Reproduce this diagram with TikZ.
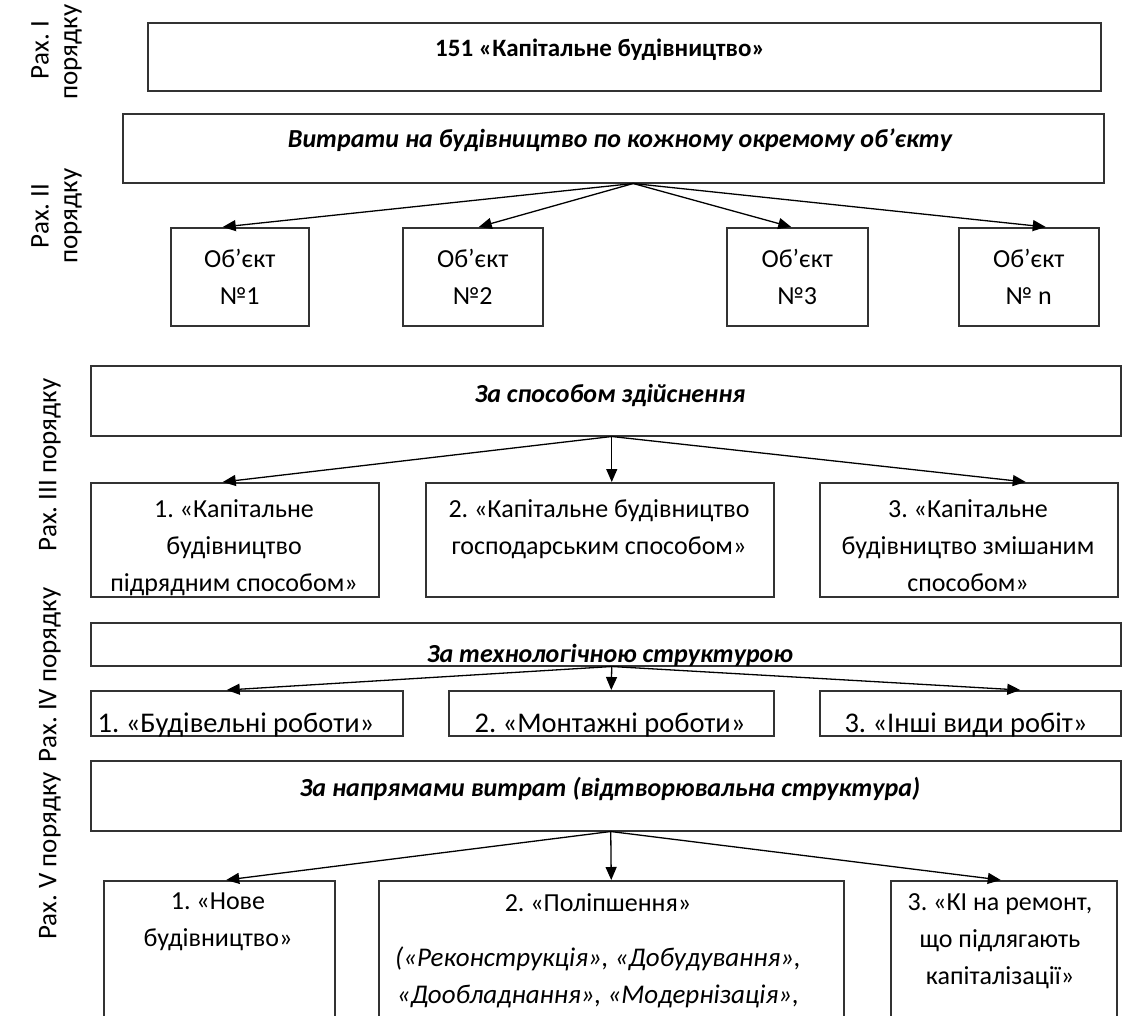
\documentclass[tikz,border=0pt]{standalone}
\usepackage{fontspec}
\setmainfont{Carlito}
\usetikzlibrary{arrows.meta}
\frenchspacing

\begin{document}
\begin{tikzpicture}[x=1pt, y=-1pt,
    box/.style={draw=black!80, line width=1.5pt, inner sep=0pt, anchor=north west},
    txt/.style={align=center, inner sep=0pt, font=\fontsize{26}{37}\selectfont},
    hd/.style={txt, font=\fontsize{26}{37}\selectfont\bfseries\itshape},
    rah/.style={rotate=90, inner sep=0pt, font=\fontsize{27}{33}\selectfont},
    arr/.style={-{Triangle[length=13pt,width=11pt]}, line width=1.3pt}]
    \clip (0,0) rectangle (1143,1015);

    % Side labels
    \node[rah] (lab1a) at (40,50) {Рах. I};
    \node[rah] (lab1b) at (73,52) {порядку};
    \node[rah] (lab2a) at (40,216) {Рах. II};
    \node[rah] (lab2b) at (73,216) {порядку};
    \node[rah] (lab3) at (50,465) {Рах. III порядку};
    \node[rah] (lab4) at (50,675) {Рах. IV порядку};
    \node[rah] (lab5) at (50,856) {Рах. V порядку};

    % I order
    \node[box, minimum width=953pt, minimum height=68pt] (acc) at (147,22) {};
    \node[txt, font=\fontsize{25}{37}\selectfont\bfseries] (acctxt) at (600,50) {151 «Капітальне будівництво»};

    % II order
    \node[box, minimum width=981pt, minimum height=69pt] (costs) at (122,113) {};
    \node[hd] (coststxt) at (620,140) {Витрати на будівництво по кожному окремому об’єкту};
    \node[box, txt, minimum width=138pt, minimum height=98pt] (obj1) at (170,227) {Об’єкт\\№1};
    \node[box, txt, minimum width=140pt, minimum height=98pt] (obj2) at (402,227) {Об’єкт\\№2};
    \node[box, txt, minimum width=141pt, minimum height=98pt] (obj3) at (726,227) {Об’єкт\\№3};
    \node[box, txt, minimum width=140pt, minimum height=98pt] (objn) at (958,227) {Об’єкт\\№ n};
    \draw[arr] ([xshift=20pt]costs.south) -- ([xshift=-17pt]obj1.north);
    \draw[arr] ([xshift=20pt]costs.south) -- ([xshift=6pt]obj2.north);
    \draw[arr] ([xshift=20pt]costs.south) -- ([xshift=-6pt]obj3.north);
    \draw[arr] ([xshift=20pt]costs.south) -- ([xshift=17pt]objn.north);

    % III order
    \node[box, minimum width=1030pt, minimum height=70pt] (way) at (90,365) {};
    \node[hd] (waytxt) at (610,395) {За способом здійснення};
    \node[box, minimum width=288pt, minimum height=114pt] (way1) at (90,482) {};
    \node[box, minimum width=348pt, minimum height=114pt] (way2) at (425,482) {};
    \node[box, minimum width=298pt, minimum height=114pt] (way3) at (819,482) {};
    \node[txt, anchor=north] (way1txt) at (234,499) {1. «Капітальне\\будівництво\\підрядним способом»};
    \node[txt, anchor=north] (way2txt) at (599,499) {2. «Капітальне будівництво\\господарським способом»};
    \node[txt, anchor=north] (way3txt) at (968,499) {3. «Капітальне\\будівництво змішаним\\способом»};
    \draw[arr] ([xshift=6pt]way.south) -- ([xshift=-12pt]way1.north);
    \draw[arr] ([xshift=6pt]way.south) -- ([xshift=12pt]way2.north);
    \draw[arr] ([xshift=6pt]way.south) -- ([xshift=57pt]way3.north);

    % IV order
    \node[box, minimum width=1030pt, minimum height=43pt] (tech) at (90,622) {};
    \node[hd, anchor=base] (techtxt) at (610,662) {За технологічною структурою};
    \node[box, minimum width=312pt, minimum height=45pt] (tech1) at (90,690) {};
    \node[box, minimum width=325pt, minimum height=45pt] (tech2) at (448,690) {};
    \node[box, minimum width=301pt, minimum height=45pt] (tech3) at (819,690) {};
    \node[txt, font=\fontsize{28.5}{37}\selectfont, anchor=base] (tech1txt) at (236,732) {1. «Будівельні роботи»};
    \node[txt, font=\fontsize{28.5}{37}\selectfont, anchor=base] (tech2txt) at (610,732) {2. «Монтажні роботи»};
    \node[txt, font=\fontsize{28.5}{37}\selectfont, anchor=base] (tech3txt) at (966,732) {3. «Інші види робіт»};
    \draw[arr] ([xshift=6pt]tech.south) -- ([xshift=-20pt]tech1.north);
    \draw[arr] ([xshift=6pt]tech.south) -- ([xshift=0pt]tech2.north);
    \draw[arr] ([xshift=6pt]tech.south) -- ([xshift=50pt]tech3.north);

    % V order
    \node[box, minimum width=1030pt, minimum height=70pt] (dir) at (90,760) {};
    \node[hd] (dirtxt) at (610,789) {За напрямами витрат (відтворювальна структура)};
    \node[box, minimum width=231pt, minimum height=160pt] (dir1) at (103,880) {};
    \node[box, minimum width=465pt, minimum height=160pt] (dir2) at (378,880) {};
    \node[box, minimum width=226pt, minimum height=160pt] (dir3) at (890,880) {};
    \node[txt, anchor=north] (dir1txt) at (218,893) {1. «Нове\\будівництво»};
    \node[txt, anchor=north] (dir2txt) at (598,893) {2. «Поліпшення»\\[18pt]{\fontsize{27}{37}\selectfont\itshape(«Реконструкція», «Добудування»,}\\{\fontsize{27}{37}\selectfont\itshape«Дообладнання», «Модернізація»,}};
    \node[txt, anchor=north] (dir3txt) at (1000,893) {3. «КІ на ремонт,\\що підлягають\\капіталізації»};
    \draw[arr] ([xshift=5pt]dir.south) -- ([xshift=7pt]dir1.north);
    \draw[arr] ([xshift=5pt]dir.south) -- ([xshift=0pt]dir2.north);
    \draw[arr] ([xshift=5pt]dir.south) -- ([xshift=-3pt]dir3.north);
\end{tikzpicture}
\end{document}
